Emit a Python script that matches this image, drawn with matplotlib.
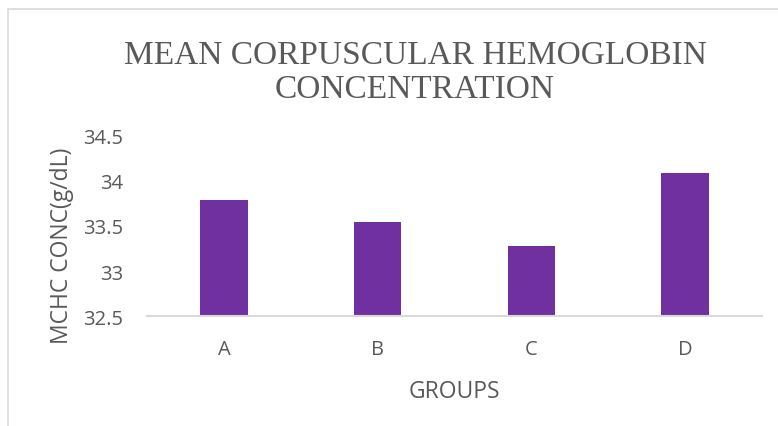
import matplotlib
matplotlib.use("Agg")
from matplotlib import pyplot as plt
from matplotlib.patches import Rectangle
import numpy as np

# Chart data
groups = ["A", "B", "C", "D"]
mchc = [33.78, 33.54, 33.28, 34.08]
yticks = [32.5, 33, 33.5, 34, 34.5]
ytick_labels = ["32.5", "33", "33.5", "34", "34.5"]

title_lines = ["MEAN CORPUSCULAR HEMOGLOBIN", "CONCENTRATION"]
xlabel = "GROUPS"
ylabel = "MCHC CONC(g/dL)"

text_color = "#595959"
bar_color = "#7030A0"
line_color = "#d9d9d9"
sans = ["Open Sans", "DejaVu Sans"]
serif = ["Liberation Serif", "DejaVu Serif"]

figure = plt.figure(figsize=(7.78, 4.27), dpi=100)

# Chart area frame, running past the right and bottom edges
frame = Rectangle((8 / 778, -0.1), 1.0, 1 - 10 / 427 + 0.1,
                  transform=figure.transFigure, fill=False,
                  edgecolor=line_color, linewidth=1.2)
figure.patches.append(frame)

axis = figure.add_axes([147 / 778, (427 - 317.3) / 427, 615 / 778, 181 / 427])

x = np.arange(len(groups))
axis.bar(x, mchc, width=0.31, color=bar_color, zorder=2)

axis.set_xlim(-0.5, len(groups) - 0.5)
axis.set_ylim(32.5, 34.5)
axis.set_xticks(x)
axis.set_xticklabels(groups, family=sans, fontsize=14.5, color=text_color)
axis.set_yticks(yticks)
axis.set_yticklabels(ytick_labels, family=sans, fontsize=14.5, color=text_color)
axis.tick_params(length=0)
axis.tick_params(axis="x", pad=16)
axis.tick_params(axis="y", pad=17)

for side in ["top", "right", "left"]:
    axis.spines[side].set_visible(False)
axis.spines["bottom"].set_color(line_color)
axis.spines["bottom"].set_linewidth(1.5)

axis.set_xlabel(xlabel, family=sans, fontsize=16.5, color=text_color, labelpad=14.5)
axis.set_ylabel(ylabel, family=sans, fontsize=16.5, color=text_color, labelpad=7)
# The value axis title sits a little below the middle of the axis
axis.yaxis.label.set_y(0.394)

# Two-line title, one text per line
baselines = [63.5, 98.5]
for line, base in zip(title_lines, baselines):
    figure.text(415 / 778, 1 - base / 427, line, ha="center", va="baseline",
                family=serif, fontsize=24, color=text_color)

plt.savefig("out.png", dpi=100)
